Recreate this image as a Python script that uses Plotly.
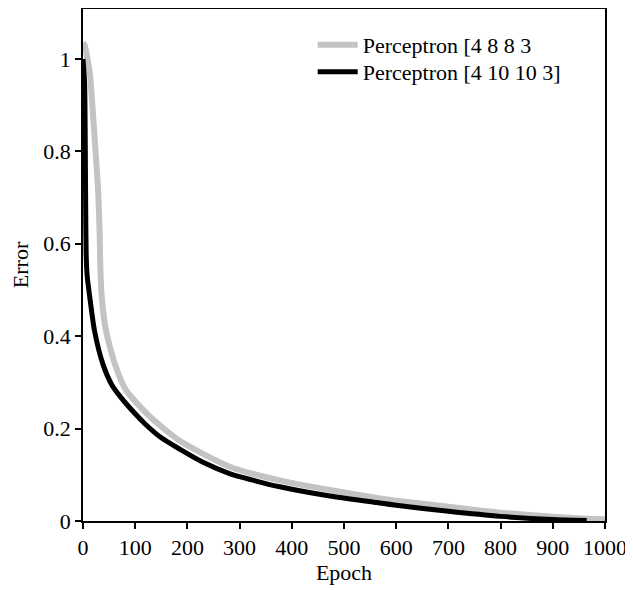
import plotly.graph_objects as go

# Perceptron [4 8 8 3] (grey)
epoch_a = [0, 3, 13, 19, 24, 29, 32, 33, 36, 44, 61, 83, 130, 186, 282, 377, 473, 563, 600, 700, 800, 900, 965, 1000]
error_a = [1.035, 1.03, 0.97, 0.883, 0.80, 0.716, 0.62, 0.557, 0.484, 0.412, 0.34, 0.282, 0.224, 0.173, 0.117,
           0.088, 0.067, 0.05, 0.044, 0.031, 0.018, 0.009, 0.005, 0.004]

# Perceptron [4 10 10 3] (black)
epoch_b = [0, 3, 5, 6, 8, 13, 22, 38, 55, 73, 100, 119, 150, 186, 230, 282, 330, 377, 473, 563, 600, 700, 800, 900, 965]
error_b = [1.0, 0.95, 0.7, 0.58, 0.53, 0.484, 0.412, 0.34, 0.295, 0.267, 0.232, 0.21, 0.18, 0.155, 0.127, 0.102,
           0.087, 0.074, 0.054, 0.04, 0.034, 0.021, 0.01, 0.003, 0.001]

x_ticks = [0, 100, 200, 300, 400, 500, 600, 700, 800, 900, 1000]
y_ticks = [0, 0.2, 0.4, 0.6, 0.8, 1]
y_tick_text = ["0", "0.2", "0.4", "0.6", "0.8", "1"]

FONT = "Liberation Serif, Times New Roman, serif"

fig = go.Figure()
fig.add_trace(go.Scatter(x=epoch_a, y=error_a, mode="lines", name="Perceptron [4 8 8 3",
                         legend="legend",
                         line=dict(color="#c3c3c3", width=6, shape="spline", smoothing=0.6)))
fig.add_trace(go.Scatter(x=epoch_b, y=error_b, mode="lines", name="Perceptron [4 10 10 3]",
                         legend="legend2",
                         line=dict(color="#000000", width=5, shape="spline", smoothing=0.6)))

leg_common = dict(x=0.44, xanchor="left", yanchor="middle", bgcolor="rgba(0,0,0,0)",
                  font=dict(size=22, family=FONT), itemwidth=40)

fig.update_layout(
    width=625, height=582,
    margin=dict(l=75, r=28, t=1, b=69),
    paper_bgcolor="white", plot_bgcolor="white",
    font=dict(family=FONT, size=22, color="black"),
    showlegend=True,
    legend=dict(y=0.930, **leg_common),
    legend2=dict(y=0.877, **leg_common),
    xaxis=dict(range=[0, 1000], tickvals=x_ticks, ticks="outside", ticklen=6, tickwidth=1.5,
               tickcolor="black", showline=True, linecolor="black", linewidth=1.5, mirror="ticks",
               showgrid=False, zeroline=False, automargin=False,
               title=dict(text="Epoch", standoff=5, font=dict(size=22))),
    yaxis=dict(range=[0, 1.108], tickvals=y_ticks, ticktext=y_tick_text, ticks="outside", ticklen=6,
               tickwidth=1.5, tickcolor="black", showline=True, linecolor="black", linewidth=1.5,
               mirror=True, showgrid=False, zeroline=False, automargin=False,
               title=dict(text="Error", standoff=12, font=dict(size=22))),
)

fig.write_html("out.html")
